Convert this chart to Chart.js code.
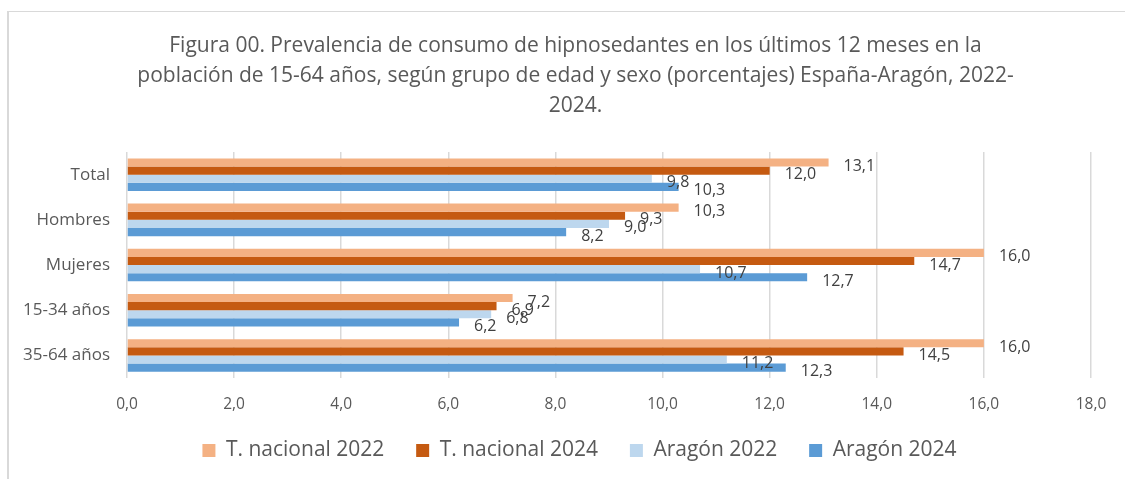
<!DOCTYPE html>
<html>
<head>
<meta charset="utf-8">
<script src="https://cdn.jsdelivr.net/npm/chart.js@4/dist/chart.umd.min.js"></script>
<style>
  html, body { margin: 0; padding: 0; background: #fff; }
  #wrap { position: relative; width: 1125px; height: 479px; }
  #frame { position: absolute; left: 7px; top: 11px; right: 0; bottom: 0;
           border-left: 2px solid #d9d9d9; border-top: 1px solid #d9d9d9; }
  canvas { position: absolute; left: 0; top: 0; }
</style>
</head>
<body>
<div id="wrap">
  <div id="frame"></div>
  <canvas id="grafico" width="1125" height="479"></canvas>
</div>
<script>
const categorias = ['Total', 'Hombres', 'Mujeres', '15-34 años', '35-64 años'];
const nacional2022 = [13.1, 10.3, 16.0, 7.2, 16.0];
const nacional2024 = [12.0, 9.3, 14.7, 6.9, 14.5];
const aragon2022 = [9.8, 9.0, 10.7, 6.8, 11.2];
const aragon2024 = [10.3, 8.2, 12.7, 6.2, 12.3];
const titulo = [
    'Figura 00. Prevalencia de consumo de hipnosedantes en los últimos 12 meses en la',
    'población de 15-64 años, según grupo de edad y sexo (porcentajes) España-Aragón, 2022-',
    '2024.'
];

const fuente = "'Open Sans', 'Noto Sans', sans-serif";
const coma = v => v.toFixed(1).replace('.', ',');

// etiquetas de valor al final de cada barra, algo desplazadas como en Excel
const etiquetas = {
    id: 'etiquetas',
    afterDatasetsDraw(chart) {
        const ctx = chart.ctx;
        ctx.save();
        ctx.font = '16px ' + fuente;
        ctx.fillStyle = '#404040';
        ctx.textAlign = 'left';
        ctx.textBaseline = 'middle';
        chart.data.datasets.forEach((ds, i) => {
            chart.getDatasetMeta(i).data.forEach((bar, j) => {
                ctx.fillText(coma(ds.data[j]), bar.x + 15, bar.y + 4);
            });
        });
        ctx.restore();
    }
};

// en el original el título y la leyenda están centrados en un marco más ancho
const desplazar = {
    id: 'desplazar',
    afterLayout(chart) {
        chart.titleBlock.left += 30;
        chart.titleBlock.right += 30;
        chart.legend.left += 34;
        chart.legend.right += 34;
    }
};

new Chart(document.getElementById('grafico'), {
    type: 'bar',
    data: {
        labels: categorias,
        datasets: [
            {label: 'T. nacional 2022', data: nacional2022, backgroundColor: '#F4B183'},
            {label: 'T. nacional 2024', data: nacional2024, backgroundColor: '#C55A11'},
            {label: 'Aragón 2022', data: aragon2022, backgroundColor: '#BDD7EE'},
            {label: 'Aragón 2024', data: aragon2024, backgroundColor: '#5B9BD5'}
        ]
    },
    options: {
        indexAxis: 'y',
        responsive: false,
        animation: false,
        datasets: {bar: {categoryPercentage: 0.72, barPercentage: 1.0}},
        layout: {padding: {left: 0, right: 34, top: 0, bottom: 8}},
        plugins: {
            title: {
                display: true,
                text: titulo,
                color: '#595959',
                font: {family: fuente, size: 21, weight: 'normal', lineHeight: 1.43},
                padding: {top: 31, bottom: 31}
            },
            legend: {
                position: 'bottom',
                labels: {
                    color: '#595959',
                    font: {family: fuente, size: 21},
                    boxWidth: 13,
                    boxHeight: 13,
                    padding: 10,
                    generateLabels(chart) {
                        const items = Chart.defaults.plugins.legend.labels.generateLabels(chart);
                        items.forEach((it, i) => {
                            if (i < items.length - 1) it.text += '    ';
                        });
                        return items;
                    }
                }
            },
            tooltip: {enabled: false}
        },
        scales: {
            x: {
                min: 0,
                max: 18,
                ticks: {
                    stepSize: 2,
                    color: '#595959',
                    font: {family: fuente, size: 15.5},
                    padding: 17,
                    callback: v => coma(v)
                },
                grid: {color: '#d9d9d9', lineWidth: 1.5, drawTicks: false},
                border: {display: false},
                afterFit(s) { s.height = 52; }
            },
            y: {
                ticks: {
                    color: '#595959',
                    font: {family: fuente, size: 17},
                    padding: 17
                },
                grid: {display: false, drawTicks: false},
                border: {display: false},
                afterFit(s) { s.width = 127; }
            }
        }
    },
    plugins: [etiquetas, desplazar]
});
</script>
</body>
</html>
